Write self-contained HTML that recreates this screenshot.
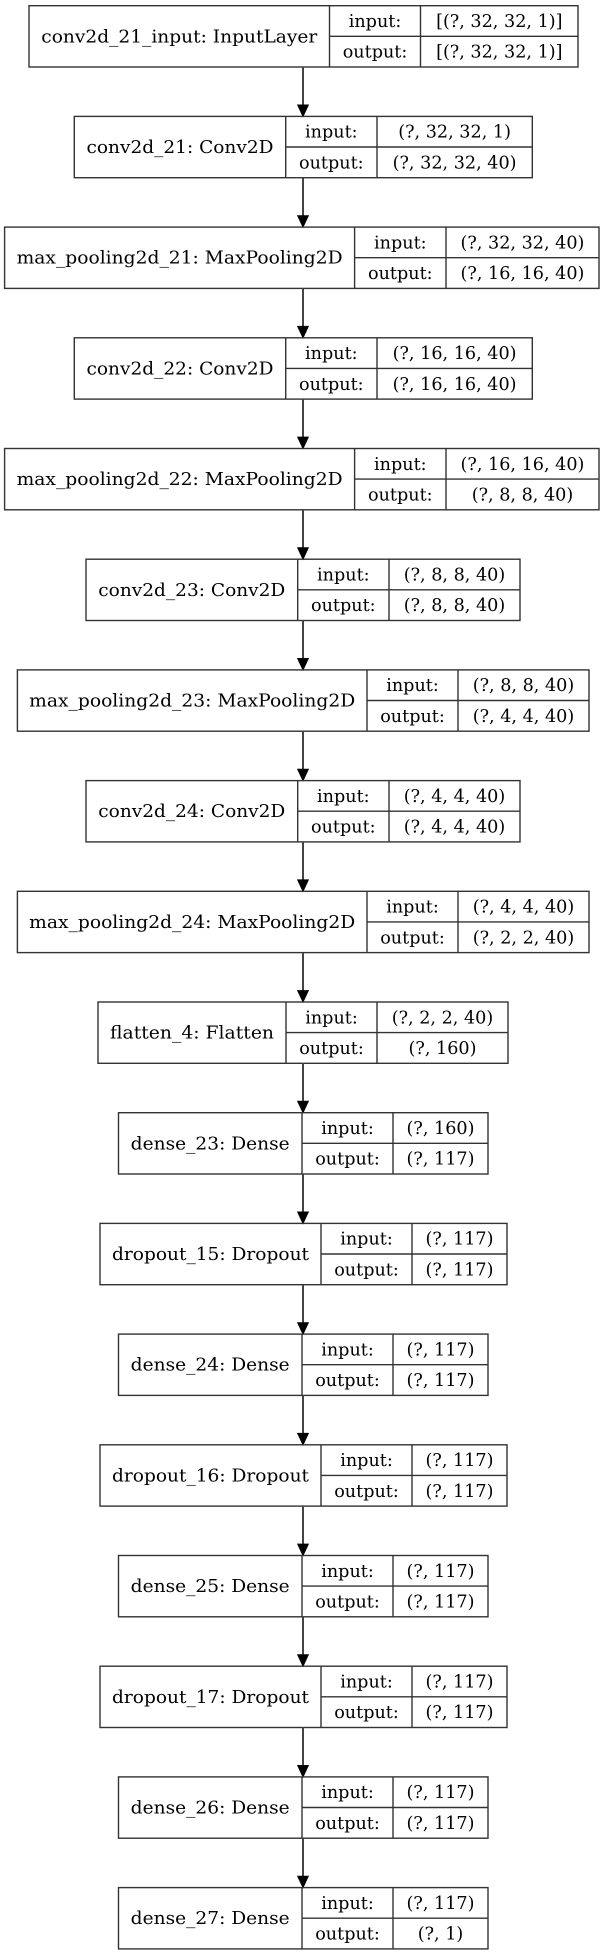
<!DOCTYPE html>
<html><head><meta charset="utf-8"><style>
html,body{margin:0;padding:0;background:#fff;}
svg{display:block;}
text{font-family:"DejaVu Serif","Liberation Serif",serif;font-size:17.6px;fill:#000;text-anchor:middle;}
rect,line.s{stroke:#333;stroke-width:1.4;fill:none;}
line.a{stroke:#444;stroke-width:2;}
polygon{fill:#000;stroke:#000;stroke-width:1;}
</style></head><body>
<svg width="604" height="1955" viewBox="0 0 604 1955" xmlns="http://www.w3.org/2000/svg">
<defs>
<g id="arr"><line class="a" x1="303" y1="0" x2="303" y2="38"/><polygon points="297.7,38 308.3,38 303,49.4"/></g>
</defs>

<g transform="translate(0,5.7)">
<rect x="29" y="0" width="549" height="61.3"/>
<line class="s" x1="329.5" y1="0" x2="329.5" y2="61.3"/><line class="s" x1="420.5" y1="0" x2="420.5" y2="61.3"/><line class="s" x1="329.5" y1="30.6" x2="578" y2="30.6"/>
<text x="179.3" y="36.6" textLength="276" lengthAdjust="spacingAndGlyphs">conv2d_21_input: InputLayer</text>
<text x="375" y="21.3">input:</text><text x="375" y="52">output:</text>
<text x="499.3" y="21.3">[(?, 32, 32, 1)]</text><text x="499.3" y="52">[(?, 32, 32, 1)]</text>
</g>
<use href="#arr" y="67"/>

<g transform="translate(0,116.4)">
<rect x="74.3" y="0" width="458" height="61.3"/>
<line class="s" x1="285.7" y1="0" x2="285.7" y2="61.3"/><line class="s" x1="377" y1="0" x2="377" y2="61.3"/><line class="s" x1="285.7" y1="30.6" x2="532.3" y2="30.6"/>
<text x="180" y="36.6" textLength="187" lengthAdjust="spacingAndGlyphs">conv2d_21: Conv2D</text>
<text x="331.3" y="21.3">input:</text><text x="331.3" y="52">output:</text>
<text x="454.6" y="21.3">(?, 32, 32, 1)</text><text x="454.6" y="52">(?, 32, 32, 40)</text>
</g>
<use href="#arr" y="177.7"/>

<g transform="translate(0,227.1)">
<rect x="4.6" y="0" width="594.4" height="61.3"/>
<line class="s" x1="354.6" y1="0" x2="354.6" y2="61.3"/><line class="s" x1="446" y1="0" x2="446" y2="61.3"/><line class="s" x1="354.6" y1="30.6" x2="599" y2="30.6"/>
<text x="179.6" y="36.6" textLength="326" lengthAdjust="spacingAndGlyphs">max_pooling2d_21: MaxPooling2D</text>
<text x="400.3" y="21.3">input:</text><text x="400.3" y="52">output:</text>
<text x="522.5" y="21.3">(?, 32, 32, 40)</text><text x="522.5" y="52">(?, 16, 16, 40)</text>
</g>
<use href="#arr" y="288.4"/>

<g transform="translate(0,337.8)">
<rect x="74.3" y="0" width="458" height="61.3"/>
<line class="s" x1="285.7" y1="0" x2="285.7" y2="61.3"/><line class="s" x1="377" y1="0" x2="377" y2="61.3"/><line class="s" x1="285.7" y1="30.6" x2="532.3" y2="30.6"/>
<text x="180" y="36.6" textLength="187" lengthAdjust="spacingAndGlyphs">conv2d_22: Conv2D</text>
<text x="331.3" y="21.3">input:</text><text x="331.3" y="52">output:</text>
<text x="454.6" y="21.3">(?, 16, 16, 40)</text><text x="454.6" y="52">(?, 16, 16, 40)</text>
</g>
<use href="#arr" y="399.1"/>

<g transform="translate(0,448.5)">
<rect x="4.6" y="0" width="594.4" height="61.3"/>
<line class="s" x1="354.6" y1="0" x2="354.6" y2="61.3"/><line class="s" x1="446" y1="0" x2="446" y2="61.3"/><line class="s" x1="354.6" y1="30.6" x2="599" y2="30.6"/>
<text x="179.6" y="36.6" textLength="326" lengthAdjust="spacingAndGlyphs">max_pooling2d_22: MaxPooling2D</text>
<text x="400.3" y="21.3">input:</text><text x="400.3" y="52">output:</text>
<text x="522.5" y="21.3">(?, 16, 16, 40)</text><text x="522.5" y="52">(?, 8, 8, 40)</text>
</g>
<use href="#arr" y="509.8"/>

<g transform="translate(0,559.2)">
<rect x="86" y="0" width="434" height="61.3"/>
<line class="s" x1="297.7" y1="0" x2="297.7" y2="61.3"/><line class="s" x1="389" y1="0" x2="389" y2="61.3"/><line class="s" x1="297.7" y1="30.6" x2="520" y2="30.6"/>
<text x="191.8" y="36.6" textLength="187" lengthAdjust="spacingAndGlyphs">conv2d_23: Conv2D</text>
<text x="343.3" y="21.3">input:</text><text x="343.3" y="52">output:</text>
<text x="454.5" y="21.3">(?, 8, 8, 40)</text><text x="454.5" y="52">(?, 8, 8, 40)</text>
</g>
<use href="#arr" y="620.5"/>

<g transform="translate(0,669.9)">
<rect x="17.4" y="0" width="571.6" height="61.3"/>
<line class="s" x1="367" y1="0" x2="367" y2="61.3"/><line class="s" x1="458" y1="0" x2="458" y2="61.3"/><line class="s" x1="367" y1="30.6" x2="589" y2="30.6"/>
<text x="192.2" y="36.6" textLength="326" lengthAdjust="spacingAndGlyphs">max_pooling2d_23: MaxPooling2D</text>
<text x="412.5" y="21.3">input:</text><text x="412.5" y="52">output:</text>
<text x="523.5" y="21.3">(?, 8, 8, 40)</text><text x="523.5" y="52">(?, 4, 4, 40)</text>
</g>
<use href="#arr" y="731.2"/>

<g transform="translate(0,780.6)">
<rect x="86" y="0" width="434" height="61.3"/>
<line class="s" x1="297.7" y1="0" x2="297.7" y2="61.3"/><line class="s" x1="389" y1="0" x2="389" y2="61.3"/><line class="s" x1="297.7" y1="30.6" x2="520" y2="30.6"/>
<text x="191.8" y="36.6" textLength="187" lengthAdjust="spacingAndGlyphs">conv2d_24: Conv2D</text>
<text x="343.3" y="21.3">input:</text><text x="343.3" y="52">output:</text>
<text x="454.5" y="21.3">(?, 4, 4, 40)</text><text x="454.5" y="52">(?, 4, 4, 40)</text>
</g>
<use href="#arr" y="841.9"/>

<g transform="translate(0,891.3)">
<rect x="17.4" y="0" width="571.6" height="61.3"/>
<line class="s" x1="367" y1="0" x2="367" y2="61.3"/><line class="s" x1="458" y1="0" x2="458" y2="61.3"/><line class="s" x1="367" y1="30.6" x2="589" y2="30.6"/>
<text x="192.2" y="36.6" textLength="326" lengthAdjust="spacingAndGlyphs">max_pooling2d_24: MaxPooling2D</text>
<text x="412.5" y="21.3">input:</text><text x="412.5" y="52">output:</text>
<text x="523.5" y="21.3">(?, 4, 4, 40)</text><text x="523.5" y="52">(?, 2, 2, 40)</text>
</g>
<use href="#arr" y="952.6"/>

<g transform="translate(0,1002)">
<rect x="98" y="0" width="410" height="61.3"/>
<line class="s" x1="286" y1="0" x2="286" y2="61.3"/><line class="s" x1="377" y1="0" x2="377" y2="61.3"/><line class="s" x1="286" y1="30.6" x2="508" y2="30.6"/>
<text x="192" y="36.6" textLength="164" lengthAdjust="spacingAndGlyphs">flatten_4: Flatten</text>
<text x="331.5" y="21.3">input:</text><text x="331.5" y="52">output:</text>
<text x="442.5" y="21.3">(?, 2, 2, 40)</text><text x="442.5" y="52">(?, 160)</text>
</g>
<use href="#arr" y="1063.3"/>

<g transform="translate(0,1112.7)">
<rect x="118.5" y="0" width="369.5" height="61.3"/>
<line class="s" x1="302" y1="0" x2="302" y2="61.3"/><line class="s" x1="393" y1="0" x2="393" y2="61.3"/><line class="s" x1="302" y1="30.6" x2="488" y2="30.6"/>
<text x="210.2" y="36.6" textLength="159" lengthAdjust="spacingAndGlyphs">dense_23: Dense</text>
<text x="347.5" y="21.3">input:</text><text x="347.5" y="52">output:</text>
<text x="440.5" y="21.3">(?, 160)</text><text x="440.5" y="52">(?, 117)</text>
</g>
<use href="#arr" y="1174"/>

<g transform="translate(0,1223.4)">
<rect x="100" y="0" width="407" height="61.3"/>
<line class="s" x1="321" y1="0" x2="321" y2="61.3"/><line class="s" x1="412" y1="0" x2="412" y2="61.3"/><line class="s" x1="321" y1="30.6" x2="507" y2="30.6"/>
<text x="210.5" y="36.6" textLength="197" lengthAdjust="spacingAndGlyphs">dropout_15: Dropout</text>
<text x="366.5" y="21.3">input:</text><text x="366.5" y="52">output:</text>
<text x="459.5" y="21.3">(?, 117)</text><text x="459.5" y="52">(?, 117)</text>
</g>
<use href="#arr" y="1284.7"/>

<g transform="translate(0,1334.1)">
<rect x="118.5" y="0" width="369.5" height="61.3"/>
<line class="s" x1="302" y1="0" x2="302" y2="61.3"/><line class="s" x1="393" y1="0" x2="393" y2="61.3"/><line class="s" x1="302" y1="30.6" x2="488" y2="30.6"/>
<text x="210.2" y="36.6" textLength="159" lengthAdjust="spacingAndGlyphs">dense_24: Dense</text>
<text x="347.5" y="21.3">input:</text><text x="347.5" y="52">output:</text>
<text x="440.5" y="21.3">(?, 117)</text><text x="440.5" y="52">(?, 117)</text>
</g>
<use href="#arr" y="1395.4"/>

<g transform="translate(0,1444.8)">
<rect x="100" y="0" width="407" height="61.3"/>
<line class="s" x1="321" y1="0" x2="321" y2="61.3"/><line class="s" x1="412" y1="0" x2="412" y2="61.3"/><line class="s" x1="321" y1="30.6" x2="507" y2="30.6"/>
<text x="210.5" y="36.6" textLength="197" lengthAdjust="spacingAndGlyphs">dropout_16: Dropout</text>
<text x="366.5" y="21.3">input:</text><text x="366.5" y="52">output:</text>
<text x="459.5" y="21.3">(?, 117)</text><text x="459.5" y="52">(?, 117)</text>
</g>
<use href="#arr" y="1506.1"/>

<g transform="translate(0,1555.5)">
<rect x="118.5" y="0" width="369.5" height="61.3"/>
<line class="s" x1="302" y1="0" x2="302" y2="61.3"/><line class="s" x1="393" y1="0" x2="393" y2="61.3"/><line class="s" x1="302" y1="30.6" x2="488" y2="30.6"/>
<text x="210.2" y="36.6" textLength="159" lengthAdjust="spacingAndGlyphs">dense_25: Dense</text>
<text x="347.5" y="21.3">input:</text><text x="347.5" y="52">output:</text>
<text x="440.5" y="21.3">(?, 117)</text><text x="440.5" y="52">(?, 117)</text>
</g>
<use href="#arr" y="1616.8"/>

<g transform="translate(0,1666.2)">
<rect x="100" y="0" width="407" height="61.3"/>
<line class="s" x1="321" y1="0" x2="321" y2="61.3"/><line class="s" x1="412" y1="0" x2="412" y2="61.3"/><line class="s" x1="321" y1="30.6" x2="507" y2="30.6"/>
<text x="210.5" y="36.6" textLength="197" lengthAdjust="spacingAndGlyphs">dropout_17: Dropout</text>
<text x="366.5" y="21.3">input:</text><text x="366.5" y="52">output:</text>
<text x="459.5" y="21.3">(?, 117)</text><text x="459.5" y="52">(?, 117)</text>
</g>
<use href="#arr" y="1727.5"/>

<g transform="translate(0,1776.9)">
<rect x="118.5" y="0" width="369.5" height="61.3"/>
<line class="s" x1="302" y1="0" x2="302" y2="61.3"/><line class="s" x1="393" y1="0" x2="393" y2="61.3"/><line class="s" x1="302" y1="30.6" x2="488" y2="30.6"/>
<text x="210.2" y="36.6" textLength="159" lengthAdjust="spacingAndGlyphs">dense_26: Dense</text>
<text x="347.5" y="21.3">input:</text><text x="347.5" y="52">output:</text>
<text x="440.5" y="21.3">(?, 117)</text><text x="440.5" y="52">(?, 117)</text>
</g>
<use href="#arr" y="1838.2"/>

<g transform="translate(0,1887.6)">
<rect x="118.5" y="0" width="369.5" height="61.3"/>
<line class="s" x1="302" y1="0" x2="302" y2="61.3"/><line class="s" x1="393" y1="0" x2="393" y2="61.3"/><line class="s" x1="302" y1="30.6" x2="488" y2="30.6"/>
<text x="210.2" y="36.6" textLength="159" lengthAdjust="spacingAndGlyphs">dense_27: Dense</text>
<text x="347.5" y="21.3">input:</text><text x="347.5" y="52">output:</text>
<text x="440.5" y="21.3">(?, 117)</text><text x="440.5" y="52">(?, 1)</text>
</g>
</svg>
</body></html>
